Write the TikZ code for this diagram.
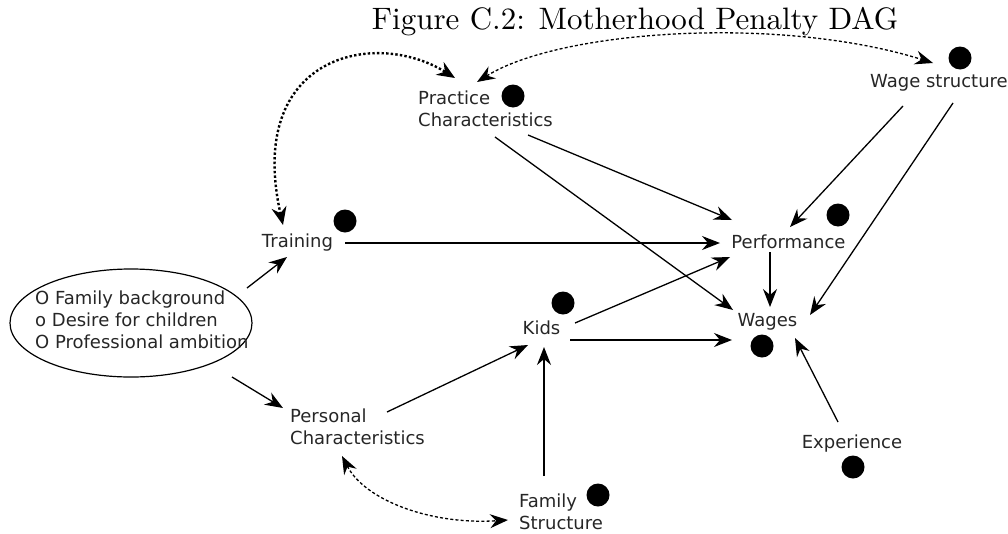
\documentclass[tikz,border=0pt]{standalone}
\usepackage{fontspec}
\setmainfont{DejaVu Sans}
\newfontfamily\titlefont{lmroman10-regular.otf}
\usetikzlibrary{arrows.meta,calc,shapes.geometric}
\tikzset{
  lbl/.style={font=\fontsize{18}{22}\selectfont, inner sep=0pt, align=left, text=black!85},
  dotnode/.style={circle, fill=black, minimum size=23pt, inner sep=0pt},
  arr/.style={line width=1.3pt, -{Stealth[length=18pt,width=14pt,inset=6pt]}},
  biarr/.style={line width=1.3pt, dash pattern=on 3pt off 2.2pt,
    {Stealth[length=18pt,width=14pt,inset=6pt]}-{Stealth[length=18pt,width=14pt,inset=6pt]}},
  biarrthick/.style={line width=2.4pt, dash pattern=on 2.4pt off 2.2pt,
    {Stealth[length=18pt,width=15pt,inset=6pt]}-{Stealth[length=18pt,width=15pt,inset=6pt]}},
}
\begin{document}
\begin{tikzpicture}[x=1pt,y=-1pt]
\useasboundingbox (0,0) rectangle (1008,533);
% title
\node[inner sep=0pt, font=\titlefont\fontsize{31}{36}\selectfont] (title) at (635,22) {Figure C.2: Motherhood Penalty DAG};
% nodes
\node[lbl] (train) at (297.5,243) {Training};
\node[lbl] (perf) at (788.5,242) {Performance};
\node[lbl] (kids) at (541.5,328) {Kids};
\node[lbl] (wages) at (767.5,322) {Wages};
\node[lbl, anchor=west] (prac) at (418,109) {Practice\\Characteristics};
\node[lbl, anchor=west] (ws) at (870,83) {Wage structure};
\node[lbl, anchor=west] (pers) at (290,427) {Personal\\Characteristics};
\node[lbl, anchor=west] (fam) at (519,512) {Family\\Structure};
\node[lbl] (expt) at (852,444) {Experience};
\node[draw, ellipse, line width=1.2pt, minimum width=242pt, minimum height=108pt, inner sep=0pt] (ell) at (131,323) {};
\node[lbl, anchor=west] (elltxt) at (35,320) {O Family background\\o Desire for children\\O Professional ambition};
% dots
\node[dotnode] (dprac) at (513,96) {};
\node[dotnode] (dws) at (960,58) {};
\node[dotnode] (dtrain) at (345,221) {};
\node[dotnode] (dperf) at (838,215) {};
\node[dotnode] (dkids) at (563,303) {};
\node[dotnode] (dwages) at (762,346) {};
\node[dotnode] (dexpt) at (853,467) {};
\node[dotnode] (dfam) at (598,495) {};
% solid arrows
\draw[arr] ($(ell.center)+(116,-35)$) -- ($(train.center)+(-10.5,14)$);
\draw[arr] ($(ell.center)+(101,54)$) -- ($(pers.west)+(-7,-19)$);
\draw[arr] ($(train.center)+(47.5,0)$) -- ($(perf.center)+(-68.5,1)$);
\draw[arr] ($(prac.west)+(110,26)$) -- ($(perf.center)+(-56.5,-22)$);
\draw[arr] ($(prac.west)+(77,28)$) -- ($(wages.center)+(-34.5,-12)$);
\draw[arr] ($(ws.west)+(33,23)$) -- ($(perf.center)+(1.5,-15)$);
\draw[arr] ($(ws.west)+(83,20)$) -- ($(wages.center)+(42.5,-7)$);
\draw[arr] ($(perf.center)+(-18.5,10)$) -- ($(wages.center)+(2.5,-15)$);
\draw[arr] ($(kids.center)+(33.5,-5)$) -- ($(perf.center)+(-58.5,15)$);
\draw[arr] ($(kids.center)+(28.5,12)$) -- ($(wages.center)+(-35.5,18)$);
\draw[arr] ($(pers.west)+(97,-15)$) -- ($(kids.center)+(-13.5,17)$);
\draw[arr] ($(fam.west)+(25,-36)$) -- ($(kids.center)+(2.5,19)$);
\draw[arr] ($(expt.center)+(-14,-22)$) -- ($(wages.center)+(27.5,16)$);
% dotted bidirected arcs
\draw[biarrthick] ($(train.center)+(-14.5,-18)$) .. controls (245,55) and (375,28) .. ($(prac.west)+(37,-31)$);
\draw[biarr] ($(prac.west)+(59,-27)$) .. controls (560,30) and (780,15) .. ($(ws.west)+(63,-20)$);
\draw[biarr] ($(pers.west)+(52,29)$) .. controls (365,500) and (430,525) .. ($(fam.west)+(-11,8)$);
\end{tikzpicture}
\end{document}
